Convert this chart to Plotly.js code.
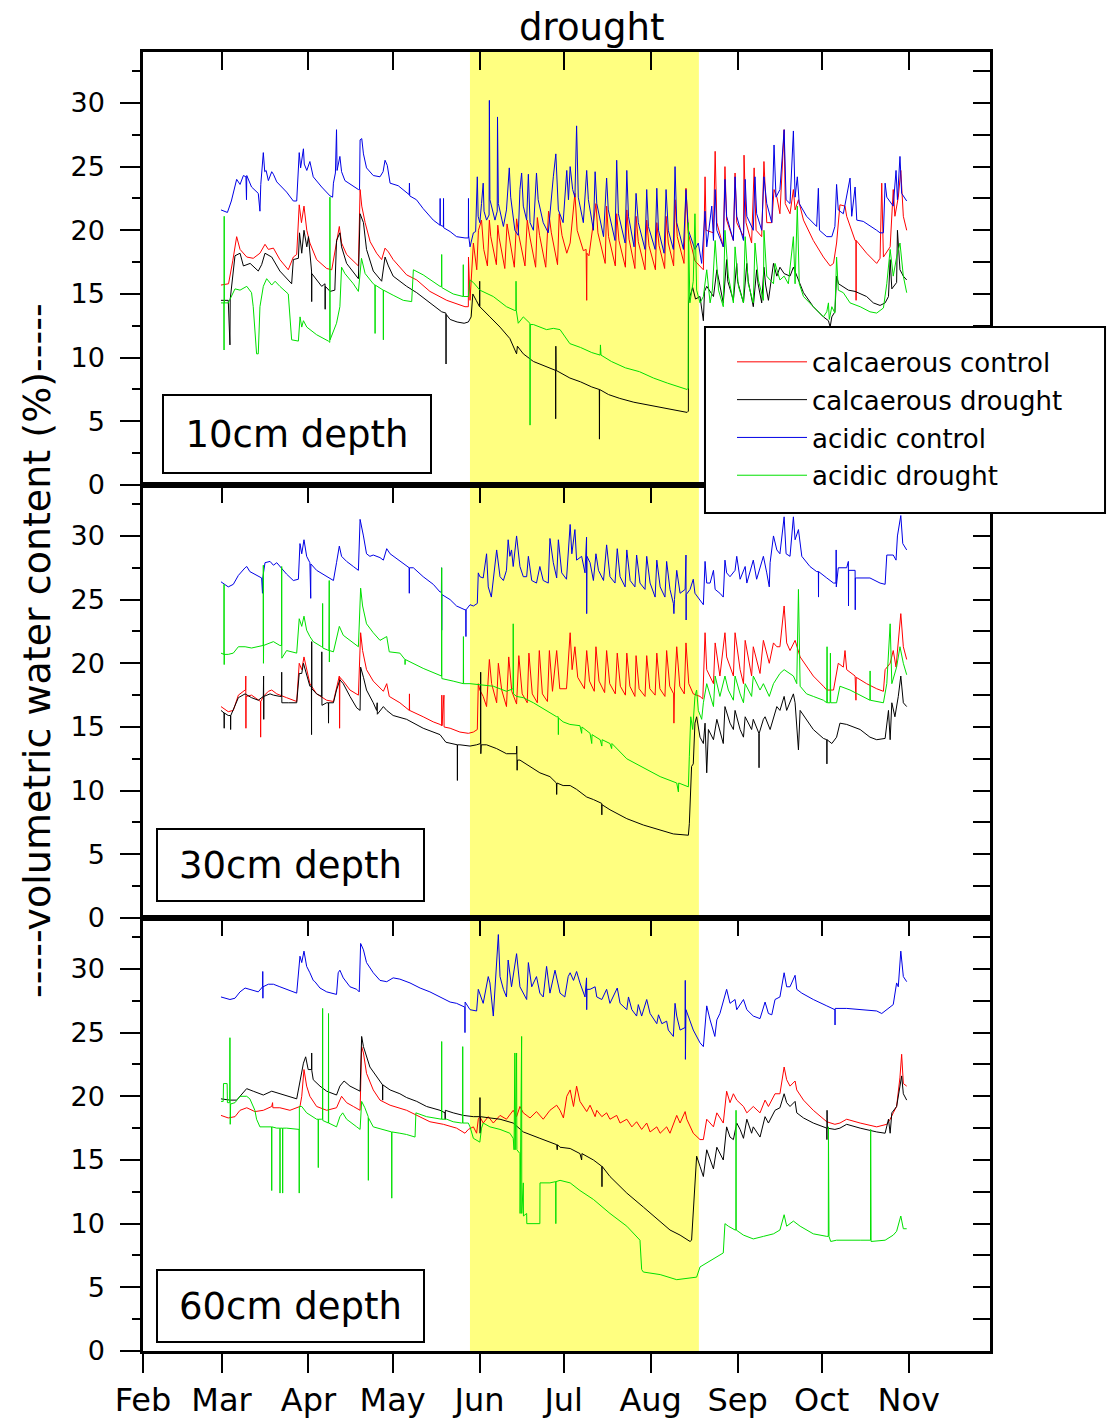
<!DOCTYPE html>
<html>
<head>
<meta charset="utf-8">
<script src="https://cdn.plot.ly/plotly-3.0.1.min.js"></script>
<style>
  html, body { margin: 0; padding: 0; background: #ffffff; }
  #chart { width: 1107px; height: 1418px; }
</style>
</head>
<body>
<div id="chart"></div>
<script>
// ---------------- data (day = days since 1 Feb, value = volumetric water content %) ----------------
const MONTH_LABELS = ['Feb','Mar','Apr','May','Jun','Jul','Aug','Sep','Oct','Nov'];
const MONTH_DATES  = ['2013-02-01','2013-03-01','2013-04-01','2013-05-01','2013-06-01','2013-07-01','2013-08-01','2013-09-01','2013-10-01','2013-11-01'];
const X_RANGE = ['2013-02-01','2013-11-30'];
const Y_RANGE = [0, 34];
const DROUGHT_PERIOD = ['2013-05-28 14:00','2013-08-18 05:00'];
const SERIES_NAMES = ['calcaerous control','calcaerous drought','acidic control','acidic drought'];
const DEPTH_LABELS = ['10cm depth','30cm depth','60cm depth'];

// ---- 10 cm ----
const calcControl10 = [[27.8,15.7],[30.5,15.8],[32.0,17.6],[33.4,19.5],[34.6,18.5],[37.0,17.9],[39.3,17.8],[41.7,18.2],[43.5,18.9],[44.7,18.5],[46.5,18.6],[48.8,17.7],[51.8,16.9],[53.6,17.9],[54.8,18.1],[55.7,22.0],[56.5,20.6],[57.4,21.9],[58.4,20.0],[59.5,19.0],[61.9,17.7],[65.5,17.0],[67.3,16.9],[69.0,19.2],[70.0,20.3],[70.8,19.0],[72.6,18.1],[76.8,17.2],[77.4,23.2],[78.0,21.9],[79.2,20.6],[81.0,19.1],[83.3,18.2],[85.1,17.7],[86.3,18.6],[87.5,18.3],[89.2,17.7],[94.0,16.5],[97.6,16.1],[102.3,15.2],[108.3,14.5],[114.8,14.0],[116.0,14.0],[116.05,17.9],[116.6,14.5],[117.8,19.0],[119.0,16.9],[119.6,20.0],[120.7,20.8],[121.5,18.5],[122.8,17.2],[123.5,20.8],[124.0,19.5],[126.0,17.3],[126.5,20.4],[127.0,19.4],[129.0,17.0],[129.8,20.5],[130.5,19.5],[132.4,17.1],[133.2,20.9],[134.0,19.6],[136.2,17.2],[137.0,20.8],[138.0,19.4],[140.0,17.1],[140.6,21.0],[141.4,19.6],[143.6,17.1],[144.6,21.5],[145.6,19.8],[147.8,17.3],[148.4,21.3],[149.4,19.6],[151.1,18.2],[152.3,19.0],[154.0,22.9],[154.8,20.0],[157.0,18.4],[158.0,18.5],[158.2,14.5],[158.3,18.2],[159.0,18.0],[161.5,22.1],[162.2,19.8],[164.8,17.4],[165.3,21.9],[166.0,19.5],[168.4,17.2],[168.9,21.3],[169.7,19.2],[172.0,17.1],[172.5,21.6],[173.3,19.3],[175.4,17.0],[175.8,21.1],[176.6,19.1],[179.0,16.9],[179.6,20.8],[180.4,18.8],[182.7,16.9],[183.2,20.6],[184.0,18.8],[186.0,17.0],[186.5,21.1],[187.3,19.0],[189.2,17.2],[189.7,22.4],[190.5,19.5],[192.9,17.4],[193.6,23.3],[194.4,19.8],[196.8,17.6],[198.6,17.2],[199.8,16.9],[200.4,24.2],[200.8,20.0],[203.4,19.8],[204.0,26.2],[204.6,20.6],[206.9,18.7],[207.5,25.0],[208.1,20.8],[210.5,19.2],[211.1,24.5],[211.7,20.6],[214.1,19.5],[214.3,25.9],[215.0,20.6],[217.0,19.0],[217.9,24.9],[218.6,20.0],[220.6,19.5],[221.4,25.4],[222.4,20.6],[224.2,20.6],[225.0,23.2],[226.0,22.6],[227.1,21.3],[228.6,27.9],[229.0,22.1],[230.7,21.3],[231.9,23.2],[232.5,21.6],[233.7,22.4],[235.5,20.8],[239.0,19.2],[242.6,17.9],[245.0,17.2],[246.2,17.4],[247.3,19.0],[248.5,22.0],[250.3,21.9],[250.9,21.1],[253.9,19.2],[254.2,19.2],[254.25,14.5],[254.3,19.2],[258.0,18.2],[261.6,17.4],[262.8,17.8],[263.4,23.7],[264.0,17.9],[266.4,18.7],[267.5,23.2],[268.1,21.1],[269.3,22.6],[270.2,24.7],[271.1,21.1],[272.3,20.0]];
const calcDrought10 = [[27.8,14.5],[30.4,14.5],[31.0,11.0],[31.1,14.6],[32.8,18.0],[34.6,18.2],[35.8,17.2],[38.2,17.4],[41.1,16.8],[42.3,17.3],[43.5,18.2],[45.9,17.9],[48.8,16.8],[53.0,15.8],[53.6,17.7],[55.4,17.8],[55.8,19.8],[56.6,18.2],[57.4,20.0],[58.4,18.7],[59.0,19.5],[60.1,16.8],[60.15,14.4],[60.2,16.6],[63.7,15.6],[64.9,15.8],[64.95,13.8],[65.0,15.6],[66.7,15.2],[68.4,15.3],[69.0,19.2],[70.2,19.8],[70.8,18.7],[72.6,17.4],[76.8,16.2],[77.4,21.3],[78.6,20.6],[79.7,18.5],[82.1,16.8],[85.1,16.0],[86.3,17.9],[87.5,17.2],[89.2,16.4],[94.0,15.6],[97.6,15.1],[102.3,14.3],[106.5,13.6],[108.0,13.5],[108.05,9.5],[108.1,13.4],[109.5,13.0],[112.0,12.8],[114.5,12.7],[116.0,12.8],[117.0,13.2],[117.6,15.0],[118.8,14.5],[120.0,14.0],[120.05,16.0],[120.1,14.0],[123.7,13.2],[127.3,12.4],[130.8,11.5],[133.2,10.3],[133.5,10.9],[135.6,10.3],[139.2,9.7],[143.9,9.3],[147.1,9.0],[147.15,5.2],[147.2,10.9],[147.3,9.0],[152.2,8.4],[156.0,8.1],[160.0,7.7],[162.7,7.5],[162.75,3.6],[162.8,7.5],[166.0,7.1],[170.0,6.8],[175.0,6.5],[180.0,6.3],[185.0,6.1],[190.0,5.9],[194.0,5.7],[194.45,5.8],[194.5,14.3],[195.0,14.8],[196.0,15.5],[197.0,14.6],[198.6,14.8],[199.8,12.9],[200.2,15.2],[201.0,15.6],[203.4,14.8],[204.6,16.9],[206.9,14.3],[208.1,17.7],[208.5,16.0],[210.5,14.5],[211.7,17.4],[212.0,16.0],[214.1,14.3],[215.3,17.4],[215.8,16.0],[217.6,14.0],[218.8,16.9],[219.3,15.8],[220.6,14.3],[221.4,17.1],[222.0,15.7],[223.0,14.5],[224.8,17.4],[226.0,16.4],[227.1,17.1],[228.6,16.6],[230.7,16.4],[231.9,17.1],[233.1,16.4],[235.5,15.1],[239.0,14.0],[242.6,13.2],[244.4,12.9],[245.0,12.4],[245.6,13.2],[246.7,13.6],[247.3,16.4],[248.0,15.8],[251.5,15.3],[253.9,15.2],[258.0,14.8],[260.4,14.3],[262.8,14.1],[264.6,14.3],[265.8,14.8],[266.4,17.7],[267.0,15.4],[268.7,15.9],[269.0,20.0],[269.9,16.9],[271.1,16.4],[272.3,16.1]];
const acidControl10 = [[27.8,21.6],[30.1,21.4],[31.5,22.3],[33.4,24.0],[34.6,23.6],[35.8,24.3],[36.7,24.2],[36.9,22.4],[37.0,24.3],[38.7,23.4],[41.1,22.9],[41.7,21.5],[42.0,23.6],[42.9,26.1],[43.4,24.6],[43.9,24.7],[44.7,23.9],[45.9,24.6],[46.5,24.4],[47.7,23.8],[51.2,23.0],[53.6,22.3],[54.8,22.3],[55.4,25.8],[55.7,26.1],[56.2,24.9],[57.2,26.4],[57.5,25.2],[58.4,24.7],[59.5,25.4],[60.7,24.2],[63.7,23.4],[66.7,22.7],[67.6,22.6],[67.9,23.7],[68.6,24.5],[69.0,27.9],[69.2,24.7],[70.2,25.8],[70.8,24.6],[72.0,23.9],[76.8,23.2],[77.2,23.2],[77.4,27.1],[78.0,27.2],[78.6,26.0],[79.7,24.9],[82.1,24.3],[84.5,24.2],[85.6,24.6],[86.3,25.5],[87.1,25.1],[88.1,23.7],[91.0,23.5],[94.0,22.9],[94.9,22.8],[95.0,23.7],[95.1,22.7],[97.5,22.4],[99.9,21.7],[103.5,20.8],[105.9,20.4],[105.95,22.5],[106.0,20.4],[107.1,20.3],[107.15,22.5],[107.2,20.2],[109.5,19.9],[111.8,19.5],[114.8,19.4],[116.0,19.4],[116.05,22.5],[116.1,19.6],[116.6,18.7],[117.8,19.8],[118.6,19.9],[119.2,24.2],[119.5,21.1],[120.1,20.6],[120.7,22.1],[121.3,23.7],[121.6,21.5],[122.5,20.8],[123.4,21.2],[123.5,30.2],[123.7,22.4],[125.5,20.8],[126.3,21.5],[126.4,28.9],[126.7,22.1],[128.5,20.3],[129.6,21.6],[130.6,24.9],[131.1,22.6],[132.6,20.0],[133.8,19.6],[134.4,23.2],[135.0,24.5],[135.6,21.9],[136.8,20.8],[137.4,24.4],[138.0,20.6],[139.2,20.0],[140.3,24.5],[140.9,22.4],[142.7,20.6],[144.5,19.8],[146.3,24.2],[147.2,26.0],[148.1,21.6],[149.8,20.6],[151.1,24.7],[151.7,22.4],[152.3,25.0],[153.2,23.2],[154.0,22.6],[154.6,28.2],[155.2,22.6],[157.0,20.6],[158.2,24.7],[158.8,22.4],[160.6,20.0],[161.2,24.6],[161.8,22.1],[164.2,19.5],[165.3,24.1],[165.9,21.6],[168.3,19.2],[168.9,25.5],[169.5,21.3],[171.9,19.0],[172.5,24.7],[173.1,21.1],[175.1,18.7],[175.8,22.9],[176.6,20.6],[179.0,18.5],[179.6,23.2],[180.2,20.3],[182.6,18.5],[183.2,23.3],[183.8,20.0],[185.8,18.2],[186.5,23.2],[187.3,20.0],[189.1,18.5],[189.7,25.0],[190.3,20.6],[192.7,18.5],[193.6,23.2],[194.45,20.0],[196.8,18.5],[198.0,19.0],[199.2,17.4],[200.4,21.5],[201.0,18.7],[202.8,21.9],[203.4,19.2],[204.0,23.2],[204.6,20.0],[206.9,18.7],[207.5,24.0],[208.1,21.1],[210.5,19.2],[211.1,24.2],[211.7,21.1],[214.1,19.2],[214.7,24.0],[215.3,21.1],[217.6,20.0],[218.2,24.2],[218.8,21.3],[220.6,20.0],[221.4,24.2],[222.4,22.1],[224.2,20.6],[225.0,26.7],[225.7,22.6],[227.1,23.2],[228.6,27.9],[229.3,22.4],[230.7,22.1],[231.9,27.8],[232.5,22.6],[233.3,24.2],[234.0,22.1],[236.6,21.1],[240.2,20.3],[240.8,23.3],[241.2,20.0],[243.8,19.5],[245.6,19.5],[246.7,20.3],[247.3,23.6],[247.9,21.6],[249.7,21.3],[252.1,24.1],[252.7,21.1],[253.9,23.4],[254.5,20.8],[256.8,20.7],[261.6,20.0],[262.8,19.8],[264.0,19.8],[264.6,23.7],[265.2,22.6],[267.5,21.9],[268.5,24.7],[269.0,22.4],[269.9,25.8],[270.5,22.9],[272.3,22.3]];
const acidDrought10 = [[27.8,14.3],[28.85,14.3],[28.9,10.6],[28.95,21.1],[29.0,14.3],[30.4,14.3],[32.8,15.4],[34.6,15.3],[37.0,15.6],[38.7,15.1],[39.3,14.0],[40.5,10.3],[41.1,10.3],[41.7,14.0],[42.9,15.6],[44.1,16.2],[45.9,15.7],[47.1,16.0],[48.8,15.6],[51.8,15.0],[53.0,11.4],[55.4,11.3],[56.0,13.2],[56.6,12.4],[57.2,12.9],[58.4,12.4],[61.9,11.8],[66.1,11.3],[66.6,11.2],[66.65,22.6],[66.7,11.4],[69.0,12.7],[70.2,14.0],[70.8,17.1],[72.0,16.6],[75.0,15.8],[76.8,15.2],[77.9,17.8],[79.2,16.6],[82.1,15.8],[82.7,15.7],[82.75,11.9],[82.8,15.7],[85.65,15.3],[85.7,11.4],[85.75,15.3],[89.2,14.9],[92.8,14.5],[95.8,14.4],[96.4,16.9],[99.9,16.5],[105.9,15.6],[106.45,15.6],[106.5,18.1],[106.55,15.5],[110.6,15.0],[113.6,14.8],[114.15,14.8],[114.2,17.3],[114.25,14.8],[116.0,14.8],[116.6,16.1],[117.8,15.9],[120.1,15.3],[124.9,14.8],[129.6,14.0],[132.6,13.7],[132.95,13.7],[133.0,16.0],[133.1,13.7],[133.8,12.7],[135.6,13.2],[137.95,12.7],[138.0,4.7],[138.1,12.6],[139.2,12.6],[143.9,12.2],[146.3,12.3],[148.7,12.2],[152.2,11.1],[156.0,10.8],[160.0,10.4],[163.0,10.2],[163.1,11.0],[163.3,10.2],[167.0,9.7],[172.0,9.2],[177.0,8.9],[182.0,8.4],[187.0,8.0],[191.4,7.7],[194.0,7.5],[194.4,7.6],[194.45,20.6],[195.0,14.3],[196.2,16.0],[196.8,21.3],[197.4,15.3],[198.6,14.3],[199.8,14.8],[201.0,16.9],[202.2,14.3],[203.0,15.3],[204.0,19.2],[205.2,15.3],[206.9,14.0],[207.5,20.0],[208.7,16.4],[210.5,14.3],[211.1,18.7],[212.3,15.6],[214.1,14.3],[214.7,19.5],[215.8,15.8],[217.6,14.3],[218.2,19.0],[219.4,16.1],[221.2,14.5],[221.4,20.0],[222.4,16.4],[224.8,15.8],[225.35,17.4],[227.1,16.1],[228.6,16.4],[230.1,15.8],[231.9,19.5],[232.5,15.8],[233.3,21.9],[234.0,15.8],[235.5,14.8],[239.0,14.0],[242.6,13.2],[243.8,13.6],[244.4,14.3],[244.7,13.0],[245.6,14.0],[246.7,13.5],[247.3,17.9],[247.9,15.3],[249.7,15.1],[252.1,14.3],[255.7,14.0],[259.2,13.6],[261.6,13.5],[264.0,13.9],[265.2,15.8],[266.4,18.5],[267.5,16.4],[268.7,17.9],[269.9,19.0],[271.1,16.4],[272.3,15.1]];

// ---- 30 cm ----
const calcControl30 = [[27.8,16.6],[30.4,16.2],[32.2,16.3],[34.0,17.5],[36.4,17.9],[36.6,17.9],[36.65,19.0],[36.7,14.9],[36.75,17.4],[38.7,17.5],[41.7,17.0],[41.9,17.0],[41.95,14.2],[42.0,17.0],[42.9,17.4],[44.7,17.8],[45.9,17.9],[47.7,17.6],[51.2,17.3],[54.8,17.0],[55.7,20.0],[56.6,19.5],[57.4,20.5],[58.35,19.5],[59.5,18.4],[61.9,17.6],[65.5,17.1],[67.9,17.0],[69.0,18.2],[70.0,19.0],[70.1,14.9],[70.2,18.9],[71.4,18.6],[73.8,17.9],[76.8,17.5],[77.6,22.4],[78.3,21.0],[79.7,19.5],[82.1,18.6],[85.7,17.8],[86.9,18.4],[87.8,17.4],[91.6,16.9],[94.95,16.3],[95.0,17.6],[95.05,16.3],[99.9,15.8],[103.5,15.4],[105.9,15.2],[106.5,15.1],[106.55,17.5],[106.6,15.1],[107.3,17.5],[107.35,15.0],[109.5,14.9],[113.0,14.6],[116.0,14.5],[117.8,14.6],[119.2,14.8],[119.55,18.4],[120.1,17.9],[121.3,17.4],[122.5,16.6],[123.5,20.3],[124.3,18.4],[126.1,16.9],[126.7,20.0],[127.9,17.9],[129.6,16.6],[130.4,20.5],[131.5,17.8],[133.2,16.8],[134.0,20.6],[135.2,17.6],[137.0,16.9],[137.6,20.8],[138.8,17.6],[140.6,16.9],[141.3,21.0],[142.4,17.6],[144.2,17.0],[144.9,21.0],[146.0,17.8],[147.5,21.0],[148.6,18.0],[151.0,18.0],[152.3,22.4],[153.0,19.5],[154.0,21.3],[155.0,18.9],[157.4,18.0],[158.2,21.0],[159.2,18.6],[160.9,17.8],[161.5,21.3],[162.6,18.6],[164.6,17.7],[165.3,21.0],[166.4,18.4],[168.4,17.6],[169.1,20.8],[170.2,18.2],[172.0,17.5],[172.5,20.8],[173.6,18.2],[175.4,17.4],[175.8,20.6],[176.9,18.0],[179.0,17.4],[179.6,20.6],[180.7,18.0],[182.6,17.5],[183.2,20.8],[184.3,18.0],[186.1,17.4],[186.7,21.0],[187.8,18.2],[189.2,17.6],[189.3,15.3],[189.5,17.9],[190.3,21.3],[191.4,18.2],[193.0,17.6],[193.6,21.6],[194.6,18.4],[196.2,17.6],[198.6,17.4],[199.6,17.2],[200.4,22.4],[201.0,19.5],[203.4,18.4],[204.0,21.6],[205.7,19.0],[207.5,22.4],[208.1,20.5],[210.5,19.0],[211.1,22.4],[212.9,19.5],[214.1,18.4],[214.7,21.8],[217.0,19.0],[217.6,21.3],[220.0,19.2],[221.2,21.8],[223.3,20.0],[224.8,21.6],[226.0,21.3],[227.1,21.3],[228.6,24.5],[229.5,21.6],[230.7,21.0],[232.5,21.8],[234.3,20.5],[239.0,19.0],[242.6,18.2],[243.8,17.9],[246.2,17.9],[247.9,20.0],[249.7,19.7],[250.3,21.0],[250.9,19.5],[253.9,19.0],[254.2,17.1],[254.3,18.9],[258.0,18.4],[261.6,18.0],[264.0,17.8],[264.6,19.5],[266.4,20.0],[267.5,21.0],[268.5,19.7],[270.2,23.9],[271.1,21.3],[272.3,20.3]];
const calcDrought30 = [[27.8,16.3],[28.6,16.1],[28.9,16.1],[28.95,14.9],[29.0,16.1],[30.4,15.9],[31.2,15.9],[31.25,14.8],[31.3,15.9],[34.0,17.3],[36.4,17.6],[38.7,17.3],[41.1,17.1],[42.9,17.4],[43.0,19.0],[43.05,15.6],[43.1,17.4],[45.3,17.6],[46.5,17.5],[48.8,17.4],[49.4,17.4],[49.45,19.3],[49.5,16.9],[51.8,16.9],[54.8,16.9],[55.7,19.2],[56.6,19.2],[57.2,20.0],[58.35,19.0],[59.5,18.2],[60.05,18.2],[60.1,14.4],[60.15,21.7],[60.2,18.0],[61.9,17.6],[63.7,17.4],[63.75,20.9],[63.8,16.7],[65.5,16.9],[66.1,16.9],[66.15,15.3],[66.2,16.9],[67.9,16.9],[69.0,17.9],[70.2,18.7],[71.4,18.4],[73.8,17.4],[76.2,16.5],[77.4,16.3],[77.6,19.7],[78.6,18.9],[79.7,17.9],[82.1,16.9],[83.3,16.3],[83.5,16.9],[83.55,16.0],[85.7,16.6],[86.9,16.3],[89.2,15.9],[94.0,15.6],[99.9,14.9],[103.5,14.6],[105.9,14.4],[108.0,13.8],[110.6,13.7],[112.05,13.6],[112.1,10.8],[112.15,13.6],[113.0,13.6],[116.6,13.5],[118.95,13.6],[120.1,13.7],[120.35,13.7],[120.4,19.3],[120.45,12.9],[120.6,13.6],[122.5,13.6],[126.1,13.3],[129.6,12.9],[133.2,12.9],[133.25,13.5],[133.4,11.6],[133.5,12.4],[134.4,12.4],[138.0,11.9],[141.5,11.4],[145.1,11.1],[147.4,10.6],[147.5,9.7],[147.6,10.6],[149.8,10.4],[152.3,10.4],[154.6,10.1],[158.2,9.5],[160.6,9.3],[163.55,9.0],[163.6,8.1],[163.65,8.9],[166.5,8.5],[172.5,7.8],[178.4,7.3],[184.4,6.9],[189.1,6.6],[194.45,6.5],[194.8,7.4],[195.6,11.9],[196.2,12.1],[196.8,15.3],[197.4,15.8],[198.6,14.2],[199.8,13.7],[200.4,15.3],[201.0,11.4],[201.6,14.8],[203.4,14.0],[204.6,15.6],[206.9,13.7],[207.5,16.6],[209.3,15.3],[210.5,14.8],[211.1,16.3],[212.9,14.8],[214.1,14.2],[214.7,15.8],[217.0,14.8],[217.6,15.6],[219.6,14.5],[219.65,11.8],[219.7,14.5],[221.2,15.6],[221.8,15.8],[223.6,14.8],[224.8,15.8],[226.0,16.6],[227.1,16.3],[228.6,17.4],[229.5,16.3],[231.9,17.6],[232.5,16.9],[233.7,13.2],[234.3,16.3],[236.6,15.6],[239.0,14.8],[242.6,14.1],[243.8,14.0],[243.85,12.1],[243.9,14.0],[245.6,13.7],[247.3,14.2],[248.5,15.3],[250.9,15.2],[255.7,14.8],[259.2,14.2],[261.6,14.0],[264.6,14.1],[265.8,16.3],[266.4,14.0],[267.0,16.9],[268.1,15.8],[269.3,17.4],[270.2,19.0],[271.1,16.9],[272.3,16.6]];
const acidControl30 = [[27.8,26.4],[30.4,26.0],[32.2,26.2],[34.0,26.9],[36.4,27.5],[37.0,27.6],[38.1,27.2],[41.1,26.8],[42.3,26.7],[42.6,25.5],[42.7,26.7],[43.5,27.9],[45.3,28.0],[46.5,27.7],[47.7,27.9],[51.2,27.0],[53.6,26.5],[55.4,26.6],[55.97,29.4],[56.6,28.6],[57.4,29.7],[58.35,28.4],[59.5,27.9],[59.8,25.1],[59.85,27.8],[61.9,27.3],[65.5,26.8],[67.9,26.5],[69.0,27.9],[70.0,29.2],[70.8,28.4],[72.6,28.0],[75.0,27.6],[76.8,27.3],[77.4,31.3],[78.0,30.7],[78.6,30.0],[79.7,28.6],[80.9,28.4],[82.1,28.5],[84.5,28.3],[85.7,28.1],[86.9,29.0],[88.1,28.6],[91.6,28.0],[94.0,27.6],[94.9,27.5],[94.95,25.5],[95.0,27.5],[96.4,27.5],[99.9,26.8],[103.5,26.2],[105.9,25.6],[106.4,25.6],[106.45,27.5],[106.5,22.6],[106.55,25.4],[109.5,25.0],[111.8,24.5],[114.8,24.2],[115.1,24.2],[115.15,22.1],[115.2,24.2],[116.6,24.6],[117.8,24.5],[119.2,24.7],[119.55,27.1],[120.1,26.8],[121.3,26.7],[122.5,28.6],[123.1,26.0],[124.2,25.2],[124.9,26.7],[126.1,28.9],[127.3,26.8],[128.5,26.5],[129.6,27.3],[130.2,29.7],[130.8,28.4],[131.4,28.9],[132.0,27.6],[133.2,30.0],[134.4,27.6],[135.6,26.8],[136.8,26.8],[137.4,28.4],[138.6,26.5],[140.3,26.3],[141.5,27.6],[142.7,26.5],[144.5,26.3],[145.1,29.8],[146.3,27.9],[147.5,26.7],[148.1,29.7],[149.3,27.1],[151.0,26.6],[152.3,30.9],[152.9,28.6],[154.0,30.5],[154.6,28.1],[156.4,28.4],[157.6,27.1],[158.15,29.9],[158.2,23.9],[158.3,28.4],[159.4,27.9],[160.6,26.5],[161.5,28.6],[162.4,27.3],[164.2,26.5],[165.3,29.3],[166.5,26.8],[168.3,26.3],[169.1,29.0],[170.1,26.8],[171.9,26.0],[172.5,28.9],[173.7,26.5],[175.4,26.0],[176.0,28.5],[177.2,26.3],[179.0,25.8],[179.6,28.4],[180.8,26.3],[182.6,25.2],[183.2,28.1],[184.4,26.0],[186.1,25.2],[186.7,28.0],[187.9,25.8],[189.1,24.7],[189.3,23.9],[189.5,25.0],[190.3,27.3],[191.5,25.5],[193.3,25.8],[193.6,28.5],[193.65,23.4],[193.7,25.4],[195.05,25.8],[196.2,26.6],[196.8,25.5],[199.8,24.6],[200.4,28.0],[201.0,26.3],[202.2,26.3],[203.4,27.3],[204.0,25.8],[205.7,25.5],[206.9,25.2],[207.5,28.1],[208.1,27.1],[209.3,26.8],[211.1,27.3],[211.7,28.4],[212.9,26.6],[214.7,27.6],[215.3,26.3],[217.6,28.1],[218.8,26.6],[221.2,28.4],[222.4,27.1],[223.3,26.0],[223.6,27.9],[224.8,30.0],[226.0,28.9],[227.1,28.6],[228.6,31.5],[229.3,28.6],[230.7,28.4],[231.9,31.5],[232.5,29.7],[233.7,30.5],[234.9,28.4],[237.8,27.6],[240.2,27.2],[240.8,27.2],[240.85,25.2],[240.9,27.2],[243.8,26.7],[246.2,26.3],[247.1,26.3],[247.15,28.9],[247.2,26.0],[247.9,27.5],[250.9,27.5],[251.5,28.0],[251.55,24.5],[251.6,27.3],[253.9,27.3],[253.95,24.2],[254.0,26.7],[254.5,26.7],[259.2,26.7],[262.8,26.3],[264.6,26.2],[265.2,28.5],[267.5,28.5],[268.5,28.1],[269.0,30.0],[270.2,31.6],[270.9,29.4],[272.3,28.9]];
const acidDrought30 = [[27.8,20.8],[28.6,20.7],[28.85,20.7],[28.9,26.2],[28.95,19.9],[29.0,20.7],[30.4,20.7],[32.2,20.8],[34.0,21.3],[36.4,21.3],[38.7,21.2],[41.1,21.3],[42.85,21.4],[42.9,27.7],[42.95,20.0],[43.0,21.4],[45.3,21.6],[46.5,21.7],[48.8,21.4],[49.4,21.4],[49.45,27.6],[49.5,20.4],[51.2,21.0],[54.8,20.8],[55.7,23.5],[56.6,22.9],[57.4,23.7],[58.35,22.6],[59.5,22.1],[60.7,21.7],[63.7,21.3],[64.0,21.3],[64.05,24.7],[64.1,21.2],[66.3,21.0],[66.4,26.5],[66.45,20.1],[66.5,21.0],[67.9,20.9],[69.0,22.1],[70.0,22.9],[71.4,22.2],[75.0,21.6],[76.8,21.3],[77.6,25.9],[78.3,24.5],[79.7,23.1],[82.1,22.4],[84.5,21.8],[86.9,22.1],[87.8,20.9],[91.6,20.8],[93.4,20.3],[93.45,19.9],[93.5,20.3],[99.9,19.6],[105.9,19.0],[106.45,19.0],[106.5,27.5],[106.55,18.8],[110.6,18.6],[114.2,18.4],[114.25,22.1],[114.3,18.4],[116.6,18.4],[120.1,18.3],[124.9,18.2],[129.6,17.8],[131.95,18.0],[132.0,23.1],[132.1,17.6],[133.2,17.4],[135.6,17.3],[139.2,16.9],[143.9,16.3],[147.5,15.8],[148.05,15.8],[148.1,14.4],[148.15,15.7],[149.8,15.4],[152.2,15.2],[155.8,15.1],[156.4,14.5],[156.5,15.0],[159.4,14.5],[160.0,13.7],[160.1,14.4],[163.0,14.0],[163.6,13.5],[163.7,14.0],[166.5,13.7],[167.1,13.3],[167.2,13.7],[172.5,12.5],[178.4,11.8],[184.4,11.1],[190.3,10.6],[190.9,9.9],[191.0,10.6],[194.45,10.3],[194.8,12.7],[195.3,15.8],[196.0,14.8],[196.8,17.4],[197.4,17.9],[198.0,16.3],[199.2,15.6],[199.8,16.9],[201.0,18.4],[202.2,17.4],[203.4,16.6],[204.0,19.0],[205.7,17.4],[207.5,19.0],[208.7,17.9],[210.5,17.1],[211.1,19.0],[212.9,17.6],[214.1,16.9],[214.7,18.4],[217.0,17.4],[217.6,19.0],[220.0,17.9],[221.2,18.4],[223.3,17.4],[224.8,18.4],[227.1,19.2],[228.6,19.5],[231.9,19.0],[233.1,18.4],[233.7,25.8],[234.3,18.2],[236.6,17.6],[239.0,17.4],[242.6,17.1],[243.8,16.9],[243.9,21.3],[244.0,16.9],[245.0,16.9],[245.1,20.8],[245.2,16.9],[247.3,16.9],[248.5,18.2],[252.1,17.9],[255.7,17.5],[259.2,17.1],[259.25,19.4],[259.3,17.1],[264.0,16.9],[265.2,18.4],[266.4,23.1],[267.0,18.4],[268.7,19.7],[269.9,21.3],[271.1,20.0],[272.3,19.1]];

// ---- 60 cm ----
const calcControl60 = [[27.8,18.5],[30.4,18.3],[32.8,18.4],[34.6,18.9],[37.0,19.1],[39.9,18.8],[42.9,18.9],[45.9,19.2],[46.2,19.5],[46.3,19.1],[48.8,19.1],[52.4,18.9],[55.97,19.2],[56.6,20.0],[57.4,22.1],[58.35,20.8],[59.5,20.0],[61.9,19.2],[65.5,18.9],[69.0,19.1],[70.8,20.0],[72.6,19.5],[75.0,19.2],[77.4,18.9],[77.96,23.9],[78.6,23.4],[79.7,21.8],[82.1,20.5],[84.5,19.7],[88.1,19.3],[94.0,18.9],[97.6,18.5],[102.3,18.0],[107.1,17.8],[111.8,17.5],[114.8,17.1],[116.0,17.4],[117.8,17.6],[118.95,17.1],[119.55,18.2],[120.1,18.4],[121.3,17.9],[122.5,18.2],[123.1,18.4],[124.9,17.9],[127.3,18.5],[129.6,18.2],[132.0,18.9],[133.2,18.4],[134.4,19.2],[135.6,18.7],[138.0,18.3],[140.3,18.8],[142.7,18.2],[145.1,18.9],[147.5,19.3],[148.7,18.9],[149.9,18.3],[151.1,20.0],[152.3,20.5],[153.5,19.2],[154.6,20.8],[155.8,19.6],[158.2,18.8],[159.4,19.3],[161.2,18.4],[161.8,18.9],[163.6,18.4],[165.3,18.7],[166.5,18.2],[168.9,18.5],[170.1,17.9],[172.5,18.2],[174.3,17.6],[176.0,18.0],[177.8,17.4],[179.6,17.9],[180.8,17.2],[183.2,17.6],[184.4,17.1],[186.7,17.6],[187.9,17.1],[190.3,18.5],[191.5,17.9],[193.3,18.8],[193.9,18.2],[196.2,17.1],[198.6,16.6],[199.8,16.6],[201.0,18.2],[203.4,17.6],[204.6,18.7],[206.9,17.9],[208.1,20.4],[209.3,19.5],[210.5,20.2],[211.7,19.7],[214.1,19.2],[215.3,18.7],[217.6,19.2],[220.0,18.7],[221.8,19.7],[223.0,19.2],[225.35,20.2],[227.1,20.2],[228.6,22.3],[229.5,21.3],[230.7,20.8],[232.5,21.2],[233.1,20.5],[235.5,19.7],[239.0,18.9],[243.8,18.0],[246.7,17.8],[248.5,17.9],[250.9,18.2],[255.7,17.9],[261.6,17.6],[265.2,17.8],[266.4,18.2],[267.5,18.7],[268.7,19.2],[269.9,21.5],[270.5,23.3],[271.1,21.0],[272.3,20.8]];
const calcDrought60 = [[27.8,19.8],[31.0,19.7],[33.4,19.7],[36.96,20.6],[39.3,20.4],[42.9,20.1],[45.9,20.4],[48.8,20.2],[52.4,20.0],[54.8,19.8],[57.2,22.6],[58.0,23.1],[58.9,22.1],[60.1,22.1],[60.15,23.4],[60.2,22.0],[60.7,21.3],[63.1,20.8],[65.5,20.4],[69.0,20.1],[70.2,20.8],[71.7,21.2],[73.8,20.8],[77.4,20.4],[77.96,24.7],[78.6,23.9],[80.9,22.3],[83.3,21.6],[85.4,20.9],[85.45,19.7],[85.5,20.9],[88.1,20.5],[91.6,20.2],[94.0,19.9],[97.6,19.6],[101.1,19.2],[105.9,18.9],[107.7,18.7],[107.75,18.2],[107.8,18.9],[110.6,18.7],[114.2,18.5],[117.8,18.4],[120.1,18.4],[120.15,19.9],[120.2,17.1],[120.3,18.4],[123.7,18.3],[127.3,18.2],[132.0,17.9],[135.6,17.2],[141.5,16.7],[147.5,16.2],[147.7,15.8],[147.8,16.2],[148.7,16.0],[152.3,15.9],[155.8,15.5],[156.4,15.0],[156.5,15.5],[160.6,15.0],[163.6,14.5],[163.65,12.9],[163.7,14.5],[166.5,13.7],[172.5,12.4],[178.4,11.3],[184.4,10.2],[187.9,9.5],[191.5,9.1],[195.05,8.6],[195.6,8.7],[196.2,10.8],[196.8,13.4],[197.4,15.3],[198.6,14.5],[199.8,13.7],[201.0,15.8],[202.2,15.0],[203.4,14.3],[204.6,16.0],[205.7,15.5],[206.9,15.0],[208.1,17.6],[209.3,16.8],[210.5,16.6],[211.7,17.9],[212.9,17.4],[214.1,16.7],[215.3,18.2],[217.0,17.1],[217.6,17.6],[220.0,16.8],[221.8,18.4],[223.0,17.9],[225.35,18.9],[227.1,19.1],[228.6,20.2],[229.5,19.5],[230.7,19.2],[232.5,19.6],[233.1,18.7],[235.5,18.3],[239.0,17.9],[243.8,17.5],[243.85,16.6],[243.9,18.9],[244.0,17.5],[246.7,17.4],[248.5,17.5],[250.9,17.8],[255.7,17.5],[261.6,17.2],[264.6,17.1],[265.8,18.2],[266.4,17.1],[267.0,18.7],[268.7,19.2],[269.9,20.8],[270.5,21.6],[271.1,20.2],[272.3,19.7]];
const acidControl60 = [[27.8,27.8],[31.0,27.6],[32.8,27.7],[34.6,28.2],[36.4,28.5],[38.1,28.4],[41.1,28.2],[42.65,28.6],[42.7,29.8],[42.75,27.7],[42.8,28.6],[44.7,28.8],[46.5,28.8],[48.8,28.6],[51.2,28.4],[54.8,28.1],[55.97,31.0],[56.6,30.5],[57.4,31.4],[58.35,30.2],[59.5,29.7],[60.7,29.1],[61.3,29.0],[63.1,28.5],[65.5,28.2],[67.9,28.1],[69.0,28.0],[69.6,29.7],[70.2,29.9],[71.4,29.3],[73.8,28.6],[76.2,28.4],[77.1,28.2],[77.6,32.0],[78.6,31.5],[79.7,30.5],[82.1,29.7],[84.5,29.1],[86.9,29.0],[89.2,29.3],[91.6,29.2],[95.2,28.9],[98.8,28.5],[102.3,28.2],[105.9,27.8],[109.5,27.4],[111.8,27.3],[114.2,27.1],[114.75,27.0],[114.8,25.0],[114.85,27.4],[116.6,26.8],[118.95,26.7],[119.55,28.4],[121.3,27.3],[123.1,29.4],[123.7,28.9],[124.9,26.3],[125.5,28.6],[126.7,32.7],[127.3,29.4],[128.5,28.4],[129.6,27.8],[130.2,30.7],[131.4,28.6],[133.2,31.2],[134.4,28.6],[136.8,27.6],[137.4,30.5],[138.6,28.6],[140.3,29.4],[141.5,28.1],[142.7,27.8],[143.9,30.2],[145.1,28.1],[146.9,29.9],[148.7,28.1],[150.4,27.8],[151.6,29.4],[152.3,29.7],[153.5,29.1],[154.6,29.8],[155.8,28.9],[157.6,27.8],[158.15,29.3],[158.2,26.8],[158.3,28.4],[159.4,28.4],[161.2,28.6],[161.8,27.8],[163.6,27.6],[165.3,28.4],[166.5,27.3],[169.1,28.5],[170.1,27.3],[172.5,26.8],[173.1,27.8],[174.3,26.8],[176.0,26.3],[176.6,27.2],[177.8,26.3],[179.6,27.6],[180.8,26.5],[183.2,25.7],[183.8,26.4],[185.0,25.7],[186.7,25.9],[187.3,25.2],[189.1,24.7],[189.7,27.3],[190.3,26.3],[191.5,25.2],[193.3,25.4],[193.35,29.1],[193.4,22.9],[193.6,26.8],[196.2,25.2],[198.6,24.2],[199.8,23.9],[201.0,27.1],[202.2,26.0],[203.9,24.7],[204.6,26.0],[205.7,26.5],[208.1,28.4],[209.3,27.3],[211.1,27.6],[211.7,26.8],[214.1,27.6],[215.3,26.8],[217.6,26.3],[220.0,26.1],[221.8,27.4],[223.0,26.5],[224.2,26.4],[225.35,27.6],[227.1,27.8],[228.6,29.7],[229.5,28.6],[230.7,28.6],[232.5,29.5],[233.1,28.4],[234.9,28.1],[239.0,27.6],[243.8,27.1],[246.7,26.8],[246.75,25.6],[246.8,26.9],[250.9,26.9],[255.7,26.8],[259.2,26.7],[261.6,26.7],[263.4,26.5],[265.2,26.8],[267.5,27.2],[268.7,28.9],[269.3,28.6],[270.2,31.4],[271.1,29.4],[272.3,29.0]];
const acidDrought60 = [[27.8,19.6],[28.6,19.6],[28.7,21.0],[30.0,21.0],[30.1,19.5],[30.9,19.5],[31.0,24.6],[31.1,17.8],[31.25,19.4],[32.8,19.5],[34.6,20.0],[36.96,20.0],[38.1,19.8],[39.9,18.9],[40.5,18.2],[41.7,17.6],[45.85,17.6],[45.9,12.6],[45.95,17.6],[47.7,17.5],[48.8,17.5],[48.85,12.4],[48.9,17.5],[49.75,17.5],[49.8,12.4],[49.85,17.5],[51.2,17.5],[54.8,17.4],[55.65,17.4],[55.7,12.4],[55.75,19.2],[56.6,19.2],[58.35,18.7],[61.9,18.2],[62.45,18.2],[62.5,14.4],[62.55,18.2],[63.7,18.2],[64.0,18.2],[64.05,26.9],[64.1,18.1],[66.1,17.9],[66.15,26.5],[66.2,17.9],[69.0,17.6],[70.2,18.4],[71.2,18.7],[72.6,18.2],[76.2,17.6],[77.4,17.4],[77.96,19.6],[79.1,19.1],[80.3,18.4],[80.35,13.4],[80.4,18.3],[82.1,17.6],[85.7,17.4],[88.65,17.2],[88.7,12.0],[88.75,17.2],[91.6,17.1],[94.0,17.0],[97.0,16.8],[97.3,18.7],[101.1,18.4],[105.9,18.2],[106.45,18.2],[106.5,24.3],[106.55,18.2],[108.3,18.2],[110.6,18.0],[113.6,17.9],[113.95,17.9],[114.0,23.9],[114.05,17.9],[116.0,17.9],[116.6,17.6],[117.8,16.7],[120.1,16.4],[120.7,17.5],[121.3,17.9],[123.7,17.6],[127.3,17.4],[130.8,17.1],[132.0,16.7],[132.3,15.8],[132.6,23.4],[132.7,15.8],[133.2,23.4],[133.3,15.8],[134.4,15.5],[134.45,10.8],[135.0,24.7],[135.05,10.8],[135.6,13.2],[135.65,10.6],[136.8,10.8],[136.85,10.0],[137.5,10.0],[141.5,10.0],[141.55,13.2],[145.1,13.2],[147.15,13.3],[147.2,10.0],[147.25,13.3],[148.7,13.4],[152.3,13.2],[155.8,12.6],[160.6,11.9],[166.5,10.8],[172.5,9.8],[177.2,8.7],[177.8,6.4],[178.4,6.2],[184.4,6.0],[190.3,5.6],[193.9,5.7],[197.4,5.8],[198.6,6.6],[201.0,6.9],[204.6,7.4],[206.9,7.7],[207.5,10.0],[208.7,9.8],[211.1,9.5],[211.4,9.5],[211.45,18.9],[211.5,9.5],[214.1,9.1],[217.6,8.8],[221.2,9.0],[224.8,9.2],[227.1,9.5],[228.6,10.7],[229.5,9.8],[231.9,10.2],[234.3,9.8],[239.0,9.2],[243.8,9.0],[244.35,9.0],[244.4,17.6],[244.5,13.0],[244.6,9.0],[245.2,8.6],[247.3,8.7],[255.7,8.7],[259.4,8.7],[259.45,17.4],[259.5,13.0],[259.6,8.6],[264.6,8.7],[267.5,9.1],[268.7,9.4],[270.2,10.6],[271.1,9.6],[272.3,9.6]];

// ---------------- building the figure ----------------
const SERIES_COLORS = ['#ff0000', '#000000', '#0000e6', '#00e000'];
const SERIES_GROUPS = ['cc', 'cd', 'ac', 'ad'];
const PANELS = [
  { data: [calcControl10, calcDrought10, acidControl10, acidDrought10], xa: 'x3', ya: 'y3', legend: true },
  { data: [calcControl30, calcDrought30, acidControl30, acidDrought30], xa: 'x2', ya: 'y2', legend: false },
  { data: [calcControl60, calcDrought60, acidControl60, acidDrought60], xa: 'x',  ya: 'y',  legend: false }
];

const BASE_MS = Date.UTC(2013, 1, 1);
function dayToDate(d) {
  return new Date(BASE_MS + d * 86400000).toISOString().slice(0, 16).replace('T', ' ');
}

const traces = [];
PANELS.forEach(p => {
  p.data.forEach((series, i) => {
    traces.push({
      type: 'scatter', mode: 'lines',
      x: series.map(pt => dayToDate(pt[0])),
      y: series.map(pt => pt[1]),
      xaxis: p.xa, yaxis: p.ya,
      name: SERIES_NAMES[i],
      legendgroup: SERIES_GROUPS[i],
      showlegend: p.legend,
      line: { color: SERIES_COLORS[i], width: 1 },
      hoverinfo: 'x+y+name'
    });
  });
});

// invisible helper traces so that the extra tick-only axes (top month ticks, right inner ticks) are drawn
const TICK_AXIS_PAIRS = [['x4','y'],['x5','y2'],['x6','y3'],['x','y4'],['x2','y5'],['x3','y6']];
TICK_AXIS_PAIRS.forEach(pair => {
  traces.push({
    type: 'scatter', mode: 'markers', x: X_RANGE, y: Y_RANGE,
    xaxis: pair[0], yaxis: pair[1], marker: { opacity: 0, size: 1 },
    showlegend: false, hoverinfo: 'skip'
  });
});

const FONT = 'DejaVu Sans, Arial, sans-serif';
const third = 1 / 3;

function bottomX(extra) {
  return Object.assign({
    type: 'date', range: X_RANGE, showgrid: false, zeroline: false,
    showline: true, linecolor: '#000', linewidth: 2.5, mirror: true,
    tickvals: MONTH_DATES, ticktext: MONTH_LABELS
  }, extra);
}
function topTicks(over, anchor) {
  return {
    type: 'date', range: X_RANGE, overlaying: over, anchor: anchor, side: 'top',
    showgrid: false, zeroline: false, showline: false,
    tickvals: MONTH_DATES, ticktext: MONTH_LABELS, ticks: 'inside', ticklen: 18, tickwidth: 2, tickcolor: '#000',
    showticklabels: false
  };
}
function leftY(domain, anchor) {
  return {
    domain: domain, anchor: anchor, range: Y_RANGE, showgrid: false, zeroline: false,
    showline: true, linecolor: '#000', linewidth: 2.5, mirror: true,
    tick0: 0, dtick: 5, ticks: 'outside', ticklen: 20, tickwidth: 2, tickcolor: '#000',
    minor: { tick0: 0, dtick: 2.5, ticks: 'outside', ticklen: 8, tickwidth: 2, tickcolor: '#000', showgrid: false },
    tickfont: { family: FONT, size: 27, color: '#000' },
    ticklabelstandoff: 10
  };
}
function rightY(over, anchor) {
  return {
    overlaying: over, anchor: anchor, side: 'right', range: Y_RANGE,
    showgrid: false, zeroline: false, showline: false,
    tick0: 0, dtick: 2.5, ticks: 'inside', ticklen: 17, tickwidth: 2, tickcolor: '#000',
    showticklabels: false
  };
}

const depthBoxes = [
  { text: DEPTH_LABELS[0], x: 0.1818, y: 0.7059, w: 266, h: 76 },
  { text: DEPTH_LABELS[1], x: 0.1741, y: 0.3741, w: 265, h: 70 },
  { text: DEPTH_LABELS[2], x: 0.1741, y: 0.0346, w: 265, h: 70 }
];

const layout = {
  width: 1107, height: 1418,
  margin: { l: 143, r: 117, t: 52, b: 67, autoexpand: false },
  paper_bgcolor: '#ffffff', plot_bgcolor: '#ffffff',
  font: { family: FONT, color: '#000' },
  showlegend: true,
  hovermode: 'closest',
  xaxis:  bottomX({ anchor: 'y', ticks: 'outside', ticklen: 19, tickwidth: 2, tickcolor: '#000',
                    tickfont: { family: FONT, size: 32, color: '#000' } }),
  xaxis2: bottomX({ anchor: 'y2', matches: 'x', ticks: '', showticklabels: false }),
  xaxis3: bottomX({ anchor: 'y3', matches: 'x', ticks: '', showticklabels: false }),
  xaxis4: topTicks('x', 'y'),
  xaxis5: topTicks('x2', 'y2'),
  xaxis6: topTicks('x3', 'y3'),
  yaxis:  leftY([0, third], 'x'),
  yaxis2: leftY([third, 2 * third], 'x2'),
  yaxis3: leftY([2 * third, 1], 'x3'),
  yaxis4: rightY('y', 'x'),
  yaxis5: rightY('y2', 'x2'),
  yaxis6: rightY('y3', 'x3'),
  legend: {
    x: 0.6954, y: 0.7795, xanchor: 'left', yanchor: 'top',
    bgcolor: 'rgba(0,0,0,0)', borderwidth: 0,
    font: { family: FONT, size: 26, color: '#000' },
    traceorder: 'grouped', tracegroupgap: 1, itemwidth: 70
  },
  shapes: [
    { type: 'rect', xref: 'x', yref: 'paper', x0: DROUGHT_PERIOD[0], x1: DROUGHT_PERIOD[1], y0: 0, y1: 1,
      fillcolor: '#ffff80', line: { width: 0 }, layer: 'below' },
    { type: 'rect', xref: 'paper', yref: 'paper', x0: 0.6635, x1: 1.1358, y0: 0.6451, y1: 0.7883,
      fillcolor: '#ffffff', line: { color: '#000', width: 2 }, layer: 'above' }
  ],
  annotations: [
    { text: 'drought', xref: 'paper', yref: 'paper', x: 0.530, y: 1.019, xanchor: 'center', yanchor: 'middle',
      showarrow: false, font: { family: FONT, size: 37, color: '#000' } },
    { text: '-----volumetric water content (%)-----', xref: 'paper', yref: 'paper', x: -0.125, y: 0.539,
      xanchor: 'center', yanchor: 'middle', textangle: -90, showarrow: false,
      font: { family: FONT, size: 38, color: '#000' } }
  ].concat(depthBoxes.map(b => ({
      text: b.text, xref: 'paper', yref: 'paper', x: b.x, y: b.y, xanchor: 'center', yanchor: 'middle',
      showarrow: false, width: b.w, height: b.h, align: 'center', valign: 'middle',
      bgcolor: '#ffffff', bordercolor: '#000', borderwidth: 2, borderpad: 0,
      font: { family: FONT, size: 37, color: '#000' }
  })))
};

Plotly.newPlot('chart', traces, layout, { displayModeBar: false, responsive: false });
</script>
</body>
</html>
